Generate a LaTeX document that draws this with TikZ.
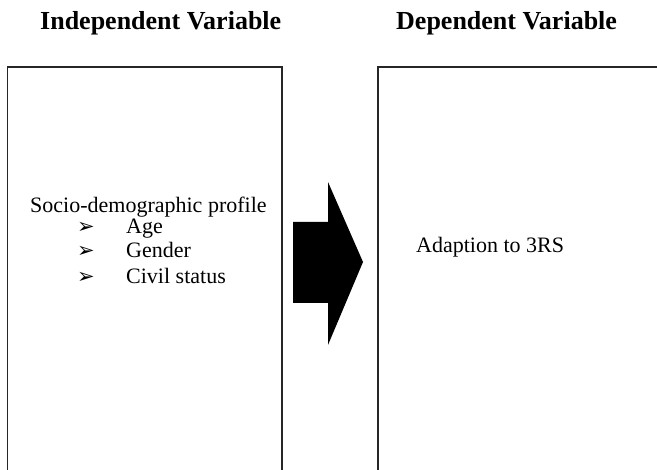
\documentclass[tikz,border=0pt]{standalone}
\usepackage{fontspec}
\setmainfont{Liberation Serif}
\newfontfamily\dejavu{DejaVu Sans}
\begin{document}
\begin{tikzpicture}[x=1pt,y=-1pt,
  heading/.style={anchor=base west,inner sep=0pt,font=\fontsize{26}{30}\selectfont\bfseries},
  body/.style={anchor=base west,inner sep=0pt,font=\fontsize{22}{24}\selectfont},
  bul/.style={anchor=base west,inner sep=0pt,font=\dejavu\fontsize{21}{24}\selectfont},
  frame/.style={draw=black!85,line width=1.3pt}]
\useasboundingbox (0,0) rectangle (657,470);
% boxes
\draw[frame] (7.5,490) -- (7.5,67) -- (282,67) -- (282,490);
\draw[frame] (378,490) -- (378,67) -- (670,67);
% headings
\node[heading] (h1) at (40,30) {Independent Variable};
\node[heading] (h2) at (396,30) {Dependent Variable};
% left box text
\node[body] (soc) at (30,213) {Socio-demographic profile};
\node[bul] (b1) at (77,234) {➢};
\node[bul] (b2) at (77,258) {➢};
\node[bul] (b3) at (77,284) {➢};
\node[body] (age) at (126,234) {Age};
\node[body] (gen) at (126,258) {Gender};
\node[body] (civ) at (126,284) {Civil status};
% right box text
\node[body] (adp) at (416,253) {Adaption to 3RS};
% arrow
\fill[black] (293,222) -- (328,222) -- (328,182) -- (363,262) -- (328,345) -- (328,303) -- (293,303) -- cycle;
\end{tikzpicture}
\end{document}
